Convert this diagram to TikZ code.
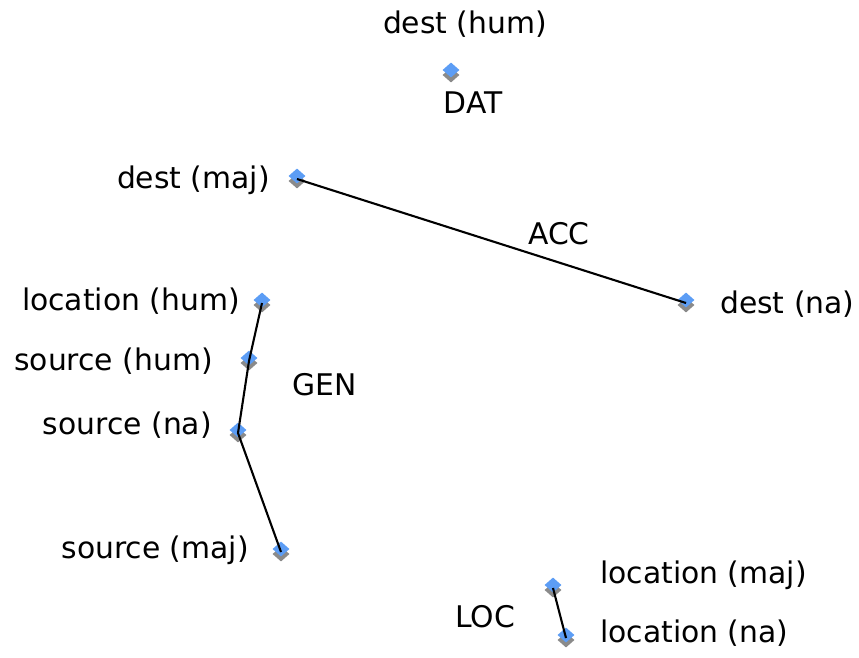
\documentclass[tikz,border=0pt]{standalone}
\usepackage{fontspec}
\setmainfont{DejaVu Sans}
\usetikzlibrary{shapes.geometric,shadows}
\definecolor{ptblue}{HTML}{5C9DF5}
\definecolor{ptshadow}{HTML}{8A8A8A}
\begin{document}
\begin{tikzpicture}[x=1pt,y=-1pt,
  pt/.style={diamond,inner sep=0pt,minimum width=17pt,minimum height=15pt,
    fill=ptblue,general shadow={fill=ptshadow,shadow yshift=-5pt}},
  lbl/.style={inner sep=0pt,font=\fontsize{29.8}{32}\selectfont,text=black},
  link/.style={draw=black,line width=2.1pt}]
\useasboundingbox (0,0) rectangle (859,657);
% points
\node[pt] (dh) at (451,70) {};
\node[pt] (dm) at (297,176) {};
\node[pt] (dn) at (686,300) {};
\node[pt] (lh) at (262,300) {};
\node[pt] (sh) at (249,358) {};
\node[pt] (sn) at (238,430) {};
\node[pt] (sm) at (281,549) {};
\node[pt] (lm) at (553,585) {};
\node[pt] (ln) at (566,635) {};
% connectors
\draw[link] ([yshift=-3pt]dm.center) -- ([yshift=-3pt]dn.center);
\draw[link] ([yshift=-3pt]lh.center) -- ([yshift=-3pt]sh.center) -- ([yshift=-3pt]sn.center) -- ([yshift=-3pt]sm.center);
\draw[link] ([yshift=-3pt]lm.center) -- ([yshift=-3pt]ln.center);
% labels
\node[lbl,anchor=base] (tdh) at (465,33) {dest (hum)};
\node[lbl,anchor=base] (tdat) at (473,113) {DAT};
\node[lbl,anchor=base east] (tdm) at (270,188) {dest (maj)};
\node[lbl,anchor=base] (tacc) at (559,244) {ACC};
\node[lbl,anchor=base west] (tdn) at (720,313) {dest (na)};
\node[lbl,anchor=base east] (tlh) at (240,310) {location (hum)};
\node[lbl,anchor=base east] (tsh) at (213,370) {source (hum)};
\node[lbl,anchor=base west] (tgen) at (292,395) {GEN};
\node[lbl,anchor=base east] (tsn) at (212,434) {source (na)};
\node[lbl,anchor=base east] (tsm) at (249,558) {source (maj)};
\node[lbl,anchor=base west] (tlm) at (600,583) {location (maj)};
\node[lbl,anchor=base] (tloc) at (485,627) {LOC};
\node[lbl,anchor=base west] (tln) at (600,642) {location (na)};
\end{tikzpicture}
\end{document}
